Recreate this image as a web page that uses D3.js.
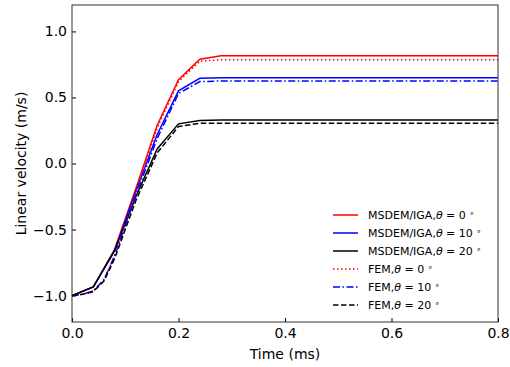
<!DOCTYPE html>
<html>
<head>
<meta charset="utf-8">
<script src="https://cdn.jsdelivr.net/npm/d3@7"></script>
<style>
  body { margin: 0; background: #fff; }
  text { font-family: "DejaVu Sans", sans-serif; }
</style>
</head>
<body>
<div id="chart"></div>
<script>
const svgWidth = 510;
const svgHeight = 367;

const margin = { top: 5, right: 12, bottom: 45, left: 72 };
const width = svgWidth - margin.left - margin.right;
const height = svgHeight - margin.top - margin.bottom;

// time steps (ms)
const timeMs = [0, 0.04, 0.08, 0.12, 0.16, 0.2, 0.24, 0.28, 0.32, 0.8];
const timeFem = [0, 0.02, 0.04, 0.06, 0.08, 0.12, 0.16, 0.2, 0.24, 0.28, 0.8];

// MSDEM/IGA velocities
const msdem0 = [-1.0, -0.935, -0.65, -0.19, 0.29, 0.635, 0.79, 0.815, 0.815, 0.815];
const msdem10 = [-1.0, -0.935, -0.66, -0.21, 0.22, 0.55, 0.645, 0.65, 0.65, 0.65];
const msdem20 = [-1.0, -0.935, -0.66, -0.25, 0.11, 0.30, 0.325, 0.33, 0.33, 0.33];

// FEM velocities
const fem0 = [-1.0, -0.99, -0.965, -0.88, -0.70, -0.22, 0.27, 0.62, 0.775, 0.785, 0.785];
const fem10 = [-1.0, -0.99, -0.965, -0.88, -0.70, -0.24, 0.19, 0.53, 0.62, 0.625, 0.625];
const fem20 = [-1.0, -0.99, -0.97, -0.89, -0.72, -0.28, 0.08, 0.28, 0.305, 0.305, 0.305];

const xTicks = [0, 0.2, 0.4, 0.6, 0.8];
const yTicks = [-1.0, -0.5, 0.0, 0.5, 1.0];

const series = [
  { name: "MSDEM/IGA,", deg: "0", x: timeMs, y: msdem0, color: "#ff0000", dash: null },
  { name: "MSDEM/IGA,", deg: "10", x: timeMs, y: msdem10, color: "#0000ff", dash: null },
  { name: "MSDEM/IGA,", deg: "20", x: timeMs, y: msdem20, color: "#000000", dash: null },
  { name: "FEM,", deg: "0", x: timeFem, y: fem0, color: "#ff0000", dash: "1.5,2.5" },
  { name: "FEM,", deg: "10", x: timeFem, y: fem10, color: "#0000ff", dash: "7,2.5,1.5,2.5" },
  { name: "FEM,", deg: "20", x: timeFem, y: fem20, color: "#000000", dash: "5.5,2.5" }
];

const svg = d3.select("#chart")
  .append("svg")
  .attr("width", svgWidth)
  .attr("height", svgHeight);

const chartGroup = svg.append("g")
  .attr("transform", `translate(${margin.left}, ${margin.top})`);

const xScale = d3.scaleLinear().domain([0, 0.8]).range([0, width]);
const yScale = d3.scaleLinear().domain([-1.2, 1.2]).range([height, 0]);

// lines
const line = d3.line();
series.forEach(s => {
  chartGroup.append("path")
    .attr("d", line(s.x.map((t, i) => [xScale(t), yScale(s.y[i])])))
    .attr("fill", "none")
    .attr("stroke", s.color)
    .attr("stroke-width", 1.5)
    .attr("stroke-dasharray", s.dash);
});

// axes, ticks pointing in
const bottomAxis = d3.axisBottom(xScale)
  .tickValues(xTicks)
  .tickSizeInner(-4)
  .tickSizeOuter(0)
  .tickPadding(6)
  .tickFormat(d3.format(".1f"));

const leftAxis = d3.axisLeft(yScale)
  .tickValues(yTicks)
  .tickSizeInner(-4)
  .tickSizeOuter(0)
  .tickPadding(5)
  .tickFormat(d => d3.format(".1f")(d).replace("-", "\u2212"));

const xAxisG = chartGroup.append("g")
  .attr("transform", `translate(0, ${height})`)
  .call(bottomAxis);
const yAxisG = chartGroup.append("g").call(leftAxis);

[xAxisG, yAxisG].forEach(g => {
  g.select(".domain").remove();
  g.selectAll("text").attr("font-size", 14).attr("fill", "#000")
    .attr("font-family", "DejaVu Sans");
  g.selectAll("line").attr("stroke", "#000");
});

// frame
chartGroup.append("rect")
  .attr("width", width)
  .attr("height", height)
  .attr("fill", "none")
  .attr("stroke", "#333")
  .attr("stroke-width", 1);

// axis labels
chartGroup.append("text")
  .attr("x", width / 2)
  .attr("y", height + 37)
  .attr("text-anchor", "middle")
  .attr("font-size", 14)
  .text("Time (ms)");

chartGroup.append("text")
  .attr("transform", `translate(-46, ${height / 2}) rotate(-90)`)
  .attr("text-anchor", "middle")
  .attr("font-size", 14)
  .text("Linear velocity (m/s)");

// legend
const legend = chartGroup.append("g")
  .attr("transform", `translate(${261}, ${210})`);

series.forEach((s, i) => {
  const row = legend.append("g").attr("transform", `translate(0, ${i * 18})`);
  row.append("line")
    .attr("x1", 0).attr("x2", 25)
    .attr("y1", 0).attr("y2", 0)
    .attr("stroke", s.color)
    .attr("stroke-width", 1.5)
    .attr("stroke-dasharray", s.dash);
  const t = row.append("text")
    .attr("x", 35)
    .attr("y", 4)
    .attr("font-size", 11);
  t.append("tspan").text(s.name);
  t.append("tspan").attr("font-style", "italic").text("\u03b8");
  t.append("tspan").text(" = " + s.deg + " ");
  t.append("tspan").attr("font-size", 8).attr("dy", -3.5).text("\u2218");
});
</script>
</body>
</html>
